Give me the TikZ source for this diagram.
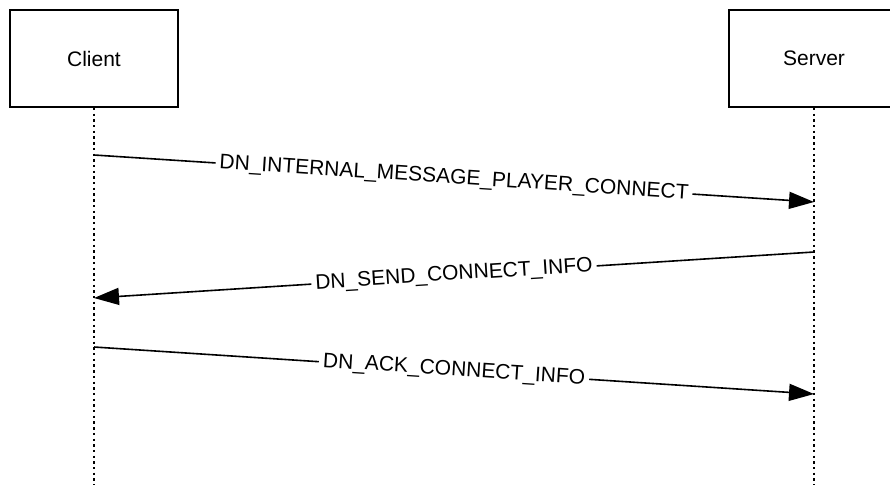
\documentclass[tikz,border=0pt]{standalone}
\usepackage{fontspec}
\setmainfont{Liberation Sans}
\usetikzlibrary{arrows.meta}
\begin{document}
\begin{tikzpicture}[x=1pt,y=-1pt,
  actor/.style={draw, line width=1.8pt, minimum height=97pt, inner sep=0pt, font=\fontsize{21}{25}\selectfont},
  lifeline/.style={line width=1.6pt, dash pattern=on 2.4pt off 3.3pt},
  msg/.style={line width=1.6pt, -{Triangle[length=25pt,width=17pt]}},
  msglabel/.style={midway, sloped, fill=white, inner sep=4pt, font=\fontsize{21}{25}\selectfont}]
\useasboundingbox (0,0) rectangle (890,485);
\node[actor, minimum width=168pt] (client) at (94,58.5) {Client};
\node[actor, minimum width=170pt] (server) at (814,58.5) {Server};
\coordinate (cend) at (94,485);
\coordinate (send) at (814,485);
\draw[lifeline] (client.south) -- (cend);
\draw[lifeline] (server.south) -- (send);
\coordinate (m1s) at (94,155);
\coordinate (m1e) at (814,202);
\coordinate (m2s) at (814,252);
\coordinate (m2e) at (94,298);
\coordinate (m3s) at (94,347);
\coordinate (m3e) at (814,394);
\draw[msg] (m1s) -- node[msglabel] {DN\_INTERNAL\_MESSAGE\_PLAYER\_CONNECT} (m1e);
\draw[msg] (m2s) -- node[msglabel] {DN\_SEND\_CONNECT\_INFO} (m2e);
\draw[msg] (m3s) -- node[msglabel] {DN\_ACK\_CONNECT\_INFO} (m3e);
\end{tikzpicture}
\end{document}
